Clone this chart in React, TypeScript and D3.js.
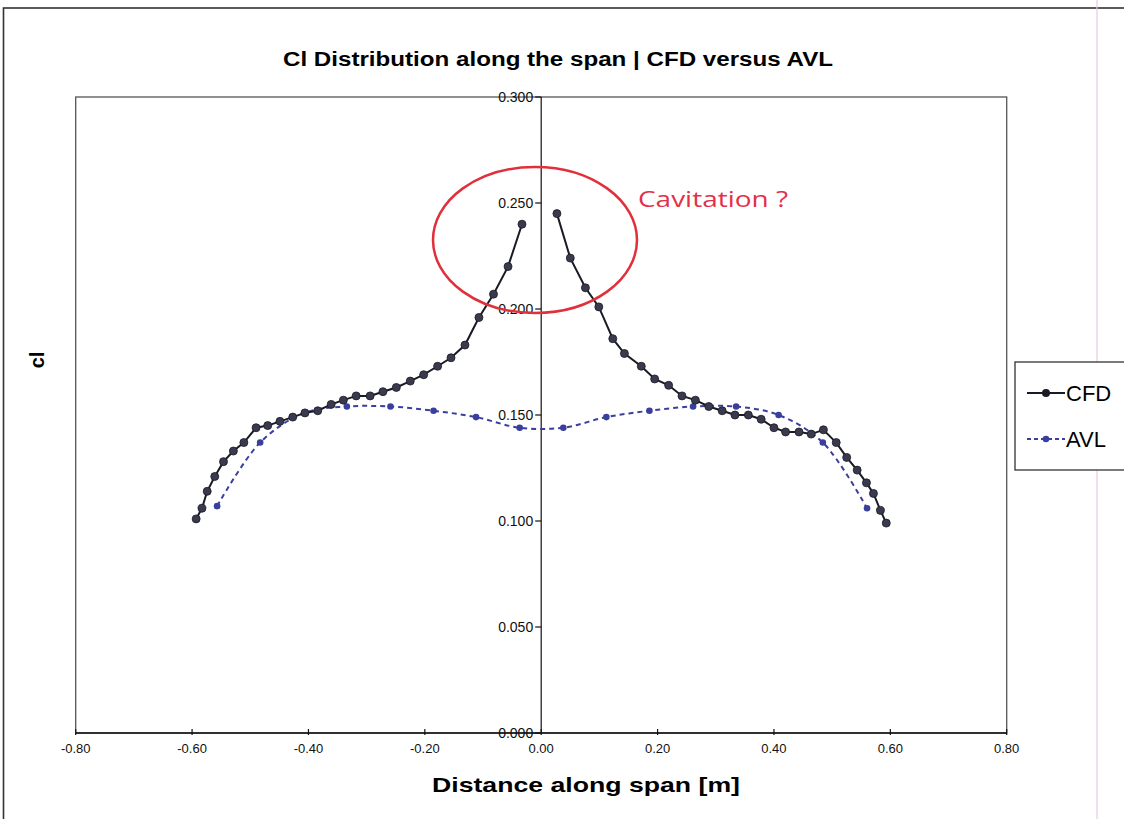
import * as d3 from "d3";
import React, { useEffect, useRef } from "react";

// CFD: two wing halves, gap at the root
const cfdLeftX = [-0.593, -0.583, -0.574, -0.561, -0.546, -0.529, -0.511, -0.49, -0.47, -0.449, -0.427, -0.406, -0.384, -0.361, -0.34, -0.318, -0.294, -0.272, -0.249, -0.225, -0.202, -0.178, -0.155, -0.131, -0.107, -0.082, -0.057, -0.033];
const cfdLeftY = [0.101, 0.106, 0.114, 0.121, 0.128, 0.133, 0.137, 0.144, 0.145, 0.147, 0.149, 0.151, 0.152, 0.155, 0.157, 0.159, 0.159, 0.161, 0.163, 0.166, 0.169, 0.173, 0.177, 0.183, 0.196, 0.207, 0.22, 0.24];
const cfdRightX = [0.027, 0.05, 0.076, 0.099, 0.123, 0.143, 0.172, 0.195, 0.219, 0.242, 0.265, 0.288, 0.311, 0.333, 0.356, 0.378, 0.4, 0.42, 0.443, 0.464, 0.485, 0.507, 0.525, 0.543, 0.559, 0.571, 0.583, 0.593];
const cfdRightY = [0.245, 0.224, 0.21, 0.201, 0.186, 0.179, 0.173, 0.167, 0.164, 0.159, 0.157, 0.154, 0.152, 0.15, 0.15, 0.148, 0.144, 0.142, 0.142, 0.141, 0.143, 0.137, 0.13, 0.124, 0.118, 0.113, 0.105, 0.099];

const avlX = [-0.557, -0.483, -0.407, -0.334, -0.259, -0.185, -0.112, -0.037, 0.038, 0.112, 0.186, 0.261, 0.335, 0.408, 0.484, 0.56];
const avlY = [0.107, 0.137, 0.151, 0.154, 0.154, 0.152, 0.149, 0.144, 0.144, 0.149, 0.152, 0.154, 0.154, 0.15, 0.137, 0.106];

const xTicks = [-0.8, -0.6, -0.4, -0.2, 0, 0.2, 0.4, 0.6, 0.8];
const xTickLabels = ["-0.80", "-0.60", "-0.40", "-0.20", "0.00", "0.20", "0.40", "0.60", "0.80"];
const yTicks = [0, 0.05, 0.1, 0.15, 0.2, 0.25, 0.3];
const yTickLabels = ["0.000", "0.050", "0.100", "0.150", "0.200", "0.250", "0.300"];

const W = 1124;
const H = 819;
const FONT = "'Liberation Sans', Arial, sans-serif";

export default function App() {
  const ref = useRef<SVGSVGElement>(null);

  useEffect(() => {
    const svg = d3.select(ref.current);
    svg.selectAll("*").remove();

    const plot = { left: 75.7, right: 1006.7, top: 97, bottom: 733 };

    const x = d3.scaleLinear().domain([-0.8, 0.8]).range([plot.left, plot.right]);
    const y = d3.scaleLinear().domain([0, 0.3]).range([plot.bottom, plot.top]);

    svg.append("rect").attr("width", W).attr("height", H).attr("fill", "#fff");

    // outer chart frame (runs off the page right and bottom)
    svg
      .append("rect")
      .attr("x", 3.5)
      .attr("y", 8)
      .attr("width", 1200)
      .attr("height", 900)
      .attr("fill", "none")
      .attr("stroke", "#333")
      .attr("stroke-width", 1.6);

    // page edge line from the scan
    svg
      .append("line")
      .attr("x1", 1097)
      .attr("x2", 1097)
      .attr("y1", 0)
      .attr("y2", H)
      .attr("stroke", "#e9c9e1")
      .attr("stroke-width", 1.2);

    // plot area
    svg
      .append("rect")
      .attr("x", plot.left)
      .attr("y", plot.top)
      .attr("width", plot.right - plot.left)
      .attr("height", plot.bottom - plot.top)
      .attr("fill", "#fff")
      .attr("stroke", "#555")
      .attr("stroke-width", 1.3);

    // title
    svg
      .append("text")
      .attr("x", 558)
      .attr("y", 66)
      .attr("text-anchor", "middle")
      .attr("font-family", FONT)
      .attr("font-weight", "bold")
      .attr("font-size", 20)
      .attr("textLength", 550)
      .attr("lengthAdjust", "spacingAndGlyphs")
      .text("Cl Distribution along the span | CFD versus AVL");

    // x axis along the bottom
    const xAxis = svg.append("g").attr("transform", `translate(0,${plot.bottom})`);
    xAxis
      .append("line")
      .attr("x1", plot.left)
      .attr("x2", plot.right)
      .attr("stroke", "#111")
      .attr("stroke-width", 1.6);
    xAxis
      .selectAll("line.tick")
      .data(xTicks)
      .join("line")
      .attr("class", "tick")
      .attr("x1", (d) => x(d))
      .attr("x2", (d) => x(d))
      .attr("y1", -4)
      .attr("y2", 2)
      .attr("stroke", "#111")
      .attr("stroke-width", 1.2);
    xAxis
      .selectAll("text")
      .data(xTicks)
      .join("text")
      .attr("x", (d) => x(d))
      .attr("y", 20)
      .attr("text-anchor", "middle")
      .attr("font-family", FONT)
      .attr("font-size", 13)
      .attr("fill", "#111")
      .text((d, i) => xTickLabels[i]);

    // y axis crossing at x = 0
    const yAxis = svg.append("g").attr("transform", `translate(${x(0)},0)`);
    yAxis
      .append("line")
      .attr("y1", plot.top)
      .attr("y2", plot.bottom)
      .attr("stroke", "#111")
      .attr("stroke-width", 1.2);
    yAxis
      .selectAll("line.tick")
      .data(yTicks)
      .join("line")
      .attr("class", "tick")
      .attr("x1", -6)
      .attr("x2", 0)
      .attr("y1", (d) => y(d))
      .attr("y2", (d) => y(d))
      .attr("stroke", "#111")
      .attr("stroke-width", 1.2);
    yAxis
      .selectAll("text")
      .data(yTicks)
      .join("text")
      .attr("x", -8)
      .attr("y", (d) => y(d))
      .attr("dy", "0.35em")
      .attr("text-anchor", "end")
      .attr("font-family", FONT)
      .attr("font-size", 14)
      .attr("fill", "#111")
      .text((d, i) => yTickLabels[i]);

    // axis titles
    svg
      .append("text")
      .attr("x", 586)
      .attr("y", 792)
      .attr("text-anchor", "middle")
      .attr("font-family", FONT)
      .attr("font-weight", "bold")
      .attr("font-size", 21)
      .attr("textLength", 308)
      .attr("lengthAdjust", "spacingAndGlyphs")
      .text("Distance along span [m]");
    svg
      .append("text")
      .attr("transform", "translate(44,360) rotate(-90)")
      .attr("text-anchor", "middle")
      .attr("font-family", FONT)
      .attr("font-weight", "bold")
      .attr("font-size", 20)
      .text("cl");

    // AVL, smoothed dashed
    const avl = avlX.map((v, i) => [v, avlY[i]] as [number, number]);
    const smooth = d3
      .line<[number, number]>()
      .x((d) => x(d[0]))
      .y((d) => y(d[1]))
      .curve(d3.curveCatmullRom.alpha(0.5));
    svg
      .append("path")
      .attr("d", smooth(avl))
      .attr("fill", "none")
      .attr("stroke", "#3a3f9e")
      .attr("stroke-width", 2)
      .attr("stroke-dasharray", "5,4");
    svg
      .append("g")
      .selectAll("circle")
      .data(avl)
      .join("circle")
      .attr("cx", (d) => x(d[0]))
      .attr("cy", (d) => y(d[1]))
      .attr("r", 3.3)
      .attr("fill", "#3a3f9e");

    // CFD, solid with markers
    const straight = d3
      .line<[number, number]>()
      .x((d) => x(d[0]))
      .y((d) => y(d[1]));
    [
      cfdLeftX.map((v, i) => [v, cfdLeftY[i]] as [number, number]),
      cfdRightX.map((v, i) => [v, cfdRightY[i]] as [number, number]),
    ].forEach((pts) => {
      svg
        .append("path")
        .attr("d", straight(pts))
        .attr("fill", "none")
        .attr("stroke", "#1a1a24")
        .attr("stroke-width", 2);
      svg
        .append("g")
        .selectAll("circle")
        .data(pts)
        .join("circle")
        .attr("cx", (d) => x(d[0]))
        .attr("cy", (d) => y(d[1]))
        .attr("r", 4)
        .attr("fill", "#3a3a4e")
        .attr("stroke", "#1a1a24")
        .attr("stroke-width", 0.8);
    });

    // cavitation note
    svg
      .append("ellipse")
      .attr("cx", 535)
      .attr("cy", 240)
      .attr("rx", 102)
      .attr("ry", 73)
      .attr("fill", "none")
      .attr("stroke", "#e0303c")
      .attr("stroke-width", 2.5);
    svg
      .append("text")
      .attr("x", 638)
      .attr("y", 207)
      .attr("font-family", "'Open Sans', 'Noto Sans', sans-serif")
      .attr("font-size", 22)
      .attr("fill", "#e3304a")
      .attr("textLength", 150)
      .attr("lengthAdjust", "spacingAndGlyphs")
      .text("Cavitation ?");

    // legend
    const lg = svg.append("g");
    lg.append("rect")
      .attr("x", 1015)
      .attr("y", 362)
      .attr("width", 130)
      .attr("height", 108)
      .attr("fill", "#fff")
      .attr("stroke", "#333")
      .attr("stroke-width", 1.3);
    const items = [
      { name: "CFD", y: 393, color: "#1a1a24", dash: null, r: 4 },
      { name: "AVL", y: 439, color: "#3a3f9e", dash: "4,3", r: 3.3 },
    ];
    items.forEach((it) => {
      lg.append("line")
        .attr("x1", 1027)
        .attr("x2", 1065)
        .attr("y1", it.y)
        .attr("y2", it.y)
        .attr("stroke", it.color)
        .attr("stroke-width", 2)
        .attr("stroke-dasharray", it.dash);
      lg.append("circle").attr("cx", 1046).attr("cy", it.y).attr("r", it.r).attr("fill", it.color);
      lg.append("text")
        .attr("x", 1066)
        .attr("y", it.y)
        .attr("dy", "0.36em")
        .attr("font-family", FONT)
        .attr("font-size", 22)
        .text(it.name);
    });
  }, []);

  return (
    <svg
      ref={ref}
      width={W}
      height={H}
      style={{ position: "absolute", left: 0, top: 0, display: "block" }}
    />
  );
}
